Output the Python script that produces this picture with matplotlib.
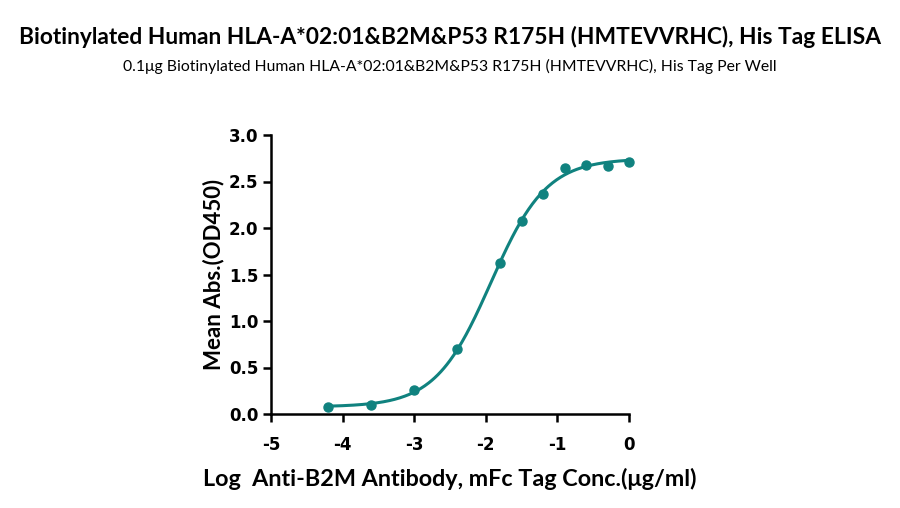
import matplotlib
matplotlib.use("Agg")
import matplotlib.pyplot as plt
import numpy as np

plt.rcParams['font.family'] = ['Lato', 'DejaVu Sans']

log_conc = [-4.2, -3.6, -3.0, -2.4, -1.8, -1.5, -1.2, -0.9, -0.6, -0.3, 0.0]
mean_abs = [0.07, 0.10, 0.26, 0.70, 1.62, 2.08, 2.37, 2.64, 2.68, 2.67, 2.71]
x_ticks = [-5, -4, -3, -2, -1, 0]
y_ticks = [0.0, 0.5, 1.0, 1.5, 2.0, 2.5, 3.0]

title = "Biotinylated Human HLA-A*02:01&B2M&P53 R175H (HMTEVVRHC), His Tag ELISA"
subtitle = "0.1μg Biotinylated Human HLA-A*02:01&B2M&P53 R175H (HMTEVVRHC), His Tag Per Well"
xlabel = "Log  Anti-B2M Antibody, mFc Tag Conc.(μg/ml)"
ylabel = "Mean Abs.(OD450)"
teal = "#10827f"

x = np.array(log_conc)
y = np.array(mean_abs)


# 4PL fit: grid over ec50/hill, bottom/top by linear least squares
def sig(xx, c, h):
    return 1.0 / (1.0 + 10 ** ((c - xx) * h))


best = None
for c in np.linspace(-3, -1, 201):
    for h in np.linspace(0.5, 3, 126):
        s = sig(x, c, h)
        A = np.column_stack([1 - s, s])
        coef, *_ = np.linalg.lstsq(A, y, rcond=None)
        err = np.sum((A @ coef - y) ** 2)
        if best is None or err < best[0]:
            best = (err, c, h, coef)
_, c, h, (bottom, top) = best

xs = np.linspace(x.min(), x.max(), 300)
ys = bottom + (top - bottom) * sig(xs, c, h)

fig = plt.figure(figsize=(9, 5.08), dpi=100)
ax = fig.add_axes([271 / 900, 1 - 414 / 508, 358 / 900, 279 / 508])

ax.plot(xs, ys, color=teal, lw=2.2, clip_on=False)
ax.plot(x, y, 'o', color=teal, ms=6.5, clip_on=False)

ax.set_xlim(-5, 0)
ax.set_ylim(0, 3)
ax.set_xticks(x_ticks)
ax.set_yticks(y_ticks)
ax.set_xticklabels([str(t) for t in x_ticks])
ax.set_yticklabels([f"{t:.1f}" for t in y_ticks])
for s in ['top', 'right']:
    ax.spines[s].set_visible(False)
for s in ['left', 'bottom']:
    ax.spines[s].set_linewidth(1.8)
ax.tick_params(width=1.8, length=6, labelsize=12, pad=3)
for lab in ax.get_xticklabels() + ax.get_yticklabels():
    lab.set_fontweight('bold')
    lab.set_family('DejaVu Sans')
ax.tick_params(axis='x', pad=10)

ax.set_xlabel(xlabel, fontsize=16.8, fontweight='bold', labelpad=10)
ax.set_ylabel(ylabel, fontsize=16, fontweight='bold', labelpad=3)

fig.text(0.5, 1 - 37 / 508, title, ha='center', va='center', fontsize=16.4, fontweight='bold')
fig.text(0.5, 1 - 66 / 508, subtitle, ha='center', va='center', fontsize=11.35)

fig.savefig("out.png", dpi=100)
